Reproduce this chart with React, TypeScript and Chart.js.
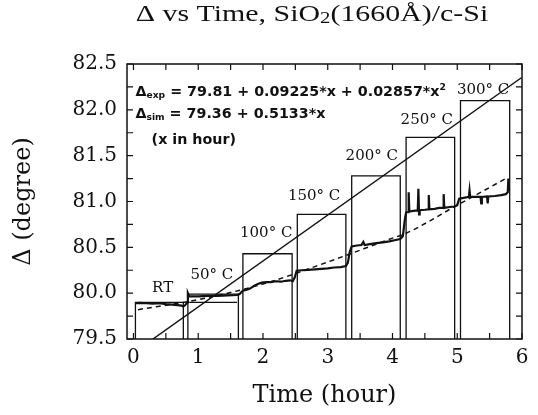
import React, { useEffect, useRef } from "react";
import { Chart, registerables } from "chart.js";

Chart.register(...registerables);

// ---- data ----
const xTicks = [0, 1, 2, 3, 4, 5, 6];
const yTicks = [79.5, 80.0, 80.5, 81.0, 81.5, 82.0, 82.5];

// temperature-step rectangles (time in hours, top in degrees)
const boxStart = [0.03, 0.84, 1.69, 2.53, 3.37, 4.21, 5.05];
const boxEnd = [0.77, 1.62, 2.45, 3.28, 4.12, 4.96, 5.81];
const boxTop = [79.9, 79.99, 80.43, 80.86, 81.28, 81.7, 82.1];
const boxLabels = ["RT", "50° C", "100° C", "150° C", "200° C", "250° C", "300° C"];
const labelTime = [0.45, 1.21, 2.05, 2.79, 3.68, 4.53, 5.4];
const labelDelta = [80.06, 80.2, 80.66, 81.06, 81.49, 81.89, 82.21];

// inner level line inside the 50 °C rectangle
const innerStart = [0.86];
const innerEnd = [1.6];
const innerLevel = [79.9];

// measured Δ vs time
const measTime = [
  0.03, 0.1, 0.2, 0.3, 0.4, 0.5, 0.6, 0.68, 0.74, 0.77, 0.8, 0.83, 0.84, 0.86,
  1.0, 1.15, 1.3, 1.45, 1.6, 1.64, 1.68, 1.7, 1.74, 1.8, 1.86, 1.92, 1.98, 2.05,
  2.12, 2.2, 2.28, 2.35, 2.42, 2.46, 2.49, 2.52, 2.6, 2.7, 2.8, 2.9, 3.0, 3.1,
  3.2, 3.28, 3.31, 3.34, 3.37, 3.45, 3.52, 3.55, 3.57, 3.65, 3.75, 3.85, 3.95,
  4.05, 4.12, 4.16, 4.19, 4.21, 4.24, 4.25, 4.26, 4.35, 4.39, 4.4, 4.41, 4.42,
  4.5, 4.55, 4.56, 4.57, 4.65, 4.72, 4.78, 4.79, 4.8, 4.88, 4.96, 5.0, 5.03,
  5.1, 5.18, 5.19, 5.2, 5.3, 5.36, 5.37, 5.38, 5.46, 5.47, 5.48, 5.58, 5.68,
  5.75, 5.78, 5.79, 5.8,
];
const measDelta = [
  79.89, 79.895, 79.89, 79.885, 79.89, 79.88, 79.875, 79.87, 79.865, 79.855,
  79.87, 79.9, 80.0, 79.965, 79.965, 79.97, 79.97, 79.975, 79.98, 79.99, 80.02,
  80.03, 80.035, 80.05, 80.08, 80.1, 80.115, 80.12, 80.12, 80.13, 80.125,
  80.135, 80.14, 80.13, 80.17, 80.245, 80.25, 80.255, 80.26, 80.265, 80.27,
  80.28, 80.285, 80.295, 80.33, 80.45, 80.51, 80.52, 80.525, 80.56, 80.525,
  80.535, 80.545, 80.555, 80.565, 80.58, 80.59, 80.62, 80.8, 80.88, 80.885,
  81.1, 80.89, 80.9, 80.9, 81.14, 80.86, 80.905, 80.91, 80.915, 81.07, 80.915,
  80.92, 80.93, 80.93, 81.08, 80.93, 80.94, 80.945, 80.96, 81.03, 81.04, 81.05,
  81.12, 81.05, 81.05, 81.05, 80.98, 81.05, 81.055, 80.98, 81.055, 81.06,
  81.07, 81.08, 81.1, 81.25, 81.12,
];

// Δexp fitted curve (dashed)
const fitTime = [0.07, 1.0, 2.0, 3.0, 4.0, 4.2, 5.0, 5.75];
const fitDelta = [79.82, 79.93, 80.1, 80.34, 80.6, 80.65, 80.96, 81.25];

// Δsim straight line
const simTime = [0.3, 5.99];
const simDelta = [79.5, 82.35];

const TITLE = ["Δ vs Time, SiO", "2", "(1660Å)/c-Si"];
const X_TITLE = "Time (hour)";
const Y_TITLE = "Δ (degree)";
const FORMULA_EXP = ["Δ", "exp", " = 79.81 + 0.09225*x + 0.02857*x", "2"];
const FORMULA_SIM = ["Δ", "sim", " = 79.36 + 0.5133*x"];
const FORMULA_NOTE = "(x in hour)";

const INK = "#111";

export default function App() {
  const ref = useRef<HTMLCanvasElement>(null);

  useEffect(() => {
    const canvas = ref.current;
    if (!canvas) return;

    const boxPts: any[] = [];
    boxStart.forEach((s, i) => {
      boxPts.push({ x: s, y: 79.5 }, { x: s, y: boxTop[i] }, { x: boxEnd[i], y: boxTop[i] }, { x: boxEnd[i], y: 79.5 }, { x: boxEnd[i], y: null });
    });
    const innerPts: any[] = [];
    innerStart.forEach((s, i) => {
      innerPts.push({ x: s, y: innerLevel[i] }, { x: innerEnd[i], y: innerLevel[i] }, { x: innerEnd[i], y: null });
    });

    const decor = {
      id: "decor",
      beforeDraw(chart: any) {
        const c = chart.ctx;
        c.save();
        c.fillStyle = "#fff";
        c.fillRect(0, 0, chart.width, chart.height);
        c.restore();
      },
      afterDatasetsDraw(chart: any) {
        const c = chart.ctx;
        const { left, right, top, bottom } = chart.chartArea;
        const xs = chart.scales.x;
        const ys = chart.scales.y;
        c.save();
        c.strokeStyle = INK;
        c.lineWidth = 1.5;
        c.strokeRect(left, top, right - left, bottom - top);
        c.lineWidth = 1.2;
        const tl = 6;
        for (let v = 0; v <= 6.001; v += 0.5) {
          const px = xs.getPixelForValue(v);
          c.beginPath();
          c.moveTo(px, bottom);
          c.lineTo(px, bottom - tl);
          c.moveTo(px, top);
          c.lineTo(px, top + tl);
          c.stroke();
        }
        for (let v = 79.5; v <= 82.501; v += 0.25) {
          const py = ys.getPixelForValue(v);
          c.beginPath();
          c.moveTo(left, py);
          c.lineTo(left + tl, py);
          c.moveTo(right, py);
          c.lineTo(right - tl, py);
          c.stroke();
        }
        c.restore();
      },
      afterDraw(chart: any) {
        const c = chart.ctx;
        const xs = chart.scales.x;
        const ys = chart.scales.y;
        c.save();
        c.fillStyle = INK;

        // title (horizontally stretched like the reference)
        c.save();
        c.translate(312, 15);
        c.scale(1.3, 1);
        const big = '23px "Liberation Serif"';
        const small = '16px "Liberation Serif"';
        c.font = big;
        const w0 = c.measureText(TITLE[0]).width;
        const w2 = c.measureText(TITLE[2]).width;
        c.font = small;
        const w1 = c.measureText(TITLE[1]).width;
        let tx = -(w0 + w1 + w2) / 2;
        c.textBaseline = "middle";
        c.textAlign = "left";
        c.font = big;
        c.fillText(TITLE[0], tx, 0);
        tx += w0;
        c.font = small;
        c.fillText(TITLE[1], tx, 4);
        tx += w1;
        c.font = big;
        c.fillText(TITLE[2], tx, 0);
        c.restore();

        // formulas
        const fBig = 'bold 14px "DejaVu Sans"';
        const fSmall = 'bold 9px "DejaVu Sans"';
        const sx = 1.02;
        const drawParts = (parts: string[], x0: number, y0: number, supLast: boolean) => {
          let x = x0;
          parts.forEach((p, i) => {
            let font = fBig;
            let dy = 0;
            if (i === 1) {
              font = fSmall;
              dy = 3;
            }
            if (supLast && i === 3) {
              font = fSmall;
              dy = -5;
            }
            c.font = font;
            c.textAlign = "left";
            c.textBaseline = "middle";
            c.save();
            c.translate(x, y0 + dy);
            c.scale(sx, 1);
            c.fillText(p, 0, 0);
            c.restore();
            x += c.measureText(p).width * sx;
          });
        };
        drawParts(FORMULA_EXP, xs.getPixelForValue(0.03), ys.getPixelForValue(82.19), true);
        drawParts(FORMULA_SIM, xs.getPixelForValue(0.03), ys.getPixelForValue(81.95), false);
        drawParts([FORMULA_NOTE], xs.getPixelForValue(0.28), ys.getPixelForValue(81.67), false);

        // temperature labels
        c.font = '15px "DejaVu Serif"';
        c.textAlign = "center";
        c.textBaseline = "middle";
        boxLabels.forEach((t, i) => {
          c.fillText(t, xs.getPixelForValue(labelTime[i]), ys.getPixelForValue(labelDelta[i]));
        });
        c.restore();
      },
    };

    const chart = new Chart(canvas, {
      type: "line",
      data: {
        datasets: [
          {
            label: "boxes",
            data: boxPts,
            borderColor: INK,
            borderWidth: 1.3,
            pointRadius: 0,
            spanGaps: false,
            tension: 0,
          },
          {
            label: "inner",
            data: innerPts,
            borderColor: INK,
            borderWidth: 1.3,
            pointRadius: 0,
            spanGaps: false,
            tension: 0,
          },
          {
            label: "measured",
            data: measTime.map((t, i) => ({ x: t, y: measDelta[i] })),
            borderColor: INK,
            borderWidth: 2.2,
            pointRadius: 0,
            tension: 0,
          },
          {
            label: "Δexp",
            data: fitTime.map((t, i) => ({ x: t, y: fitDelta[i] })),
            borderColor: INK,
            borderWidth: 1.5,
            borderDash: [5, 4],
            pointRadius: 0,
            cubicInterpolationMode: "monotone",
          },
          {
            label: "Δsim",
            data: simTime.map((t, i) => ({ x: t, y: simDelta[i] })),
            borderColor: INK,
            borderWidth: 1.5,
            pointRadius: 0,
            tension: 0,
          },
        ],
      },
      options: {
        responsive: false,
        animation: false,
        devicePixelRatio: 1,
        layout: { padding: { top: 64, right: 16, left: 0, bottom: 0 } },
        plugins: {
          legend: { display: false },
          tooltip: { enabled: false },
          title: { display: false },
        },
        scales: {
          x: {
            type: "linear",
            min: -0.1,
            max: 6.0,
            afterBuildTicks: (s: any) => {
              s.ticks = xTicks.map((v) => ({ value: v }));
            },
            afterFit: (s: any) => {
              s.height = 76;
            },
            grid: { display: false, drawTicks: false },
            border: { display: false },
            ticks: {
              color: INK,
              padding: 7,
              maxRotation: 0,
              autoSkip: false,
              font: { family: "DejaVu Serif", size: 20 },
              callback: (v: any) => String(v),
            },
            title: {
              display: true,
              text: X_TITLE,
              color: INK,
              font: { family: "DejaVu Serif", size: 24 },
              padding: { top: 0, bottom: 5 },
            },
          },
          y: {
            type: "linear",
            min: 79.5,
            max: 82.5,
            afterBuildTicks: (s: any) => {
              s.ticks = yTicks.map((v) => ({ value: v }));
            },
            afterFit: (s: any) => {
              s.width = 127;
            },
            grid: { display: false, drawTicks: false },
            border: { display: false },
            ticks: {
              color: INK,
              padding: 10,
              autoSkip: false,
              font: { family: "DejaVu Serif", size: 20 },
              callback: (v: any) => Number(v).toFixed(1),
            },
            title: {
              display: true,
              text: Y_TITLE,
              color: INK,
              font: { family: "DejaVu Serif", size: 24 },
              padding: { top: 9, bottom: 0 },
            },
          },
        },
      },
      plugins: [decor],
    } as any);

    return () => chart.destroy();
  }, []);

  return (
    <div style={{ position: "fixed", left: 0, top: 0, width: 538, height: 415, background: "#fff" }}>
      <canvas ref={ref} width={538} height={415} />
    </div>
  );
}
